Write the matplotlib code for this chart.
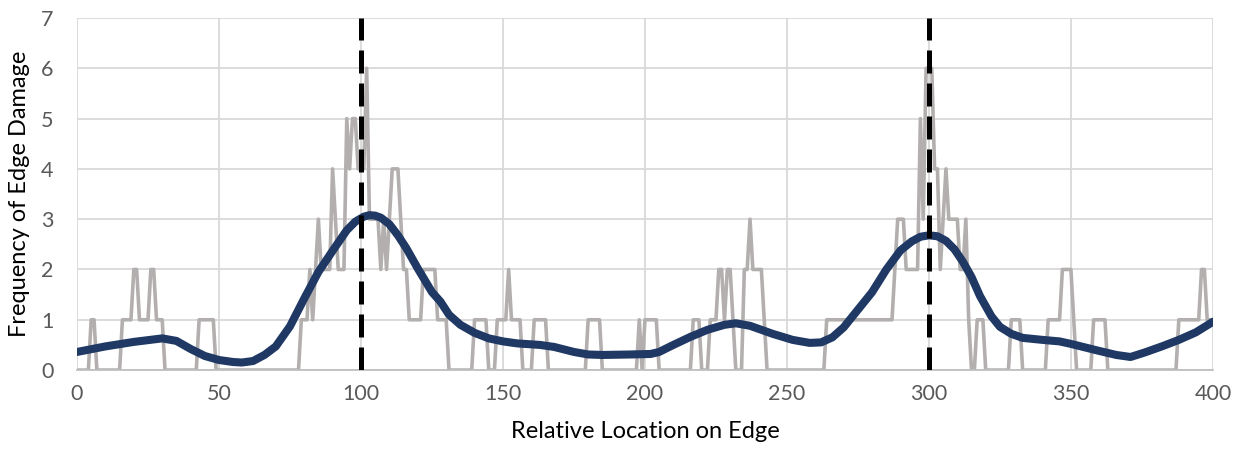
import numpy as np
import matplotlib
matplotlib.use("Agg")
import matplotlib.pyplot as plt

# raw frequency (integer steps), stored as runs: value holds from start to next start
run_starts = [0, 5, 7, 16, 20, 22, 26, 28, 31, 43,
              49, 79, 82, 83, 84, 85, 86, 90, 91, 92,
              95, 96, 97, 99, 102, 103, 107, 108, 109, 110,
              111, 114, 115, 117, 122, 127, 131, 140, 145, 148,
              152, 153, 157, 161, 166, 180, 185, 198, 199, 200,
              205, 217, 220, 223, 226, 228, 229, 231, 232, 235,
              237, 238, 242, 243, 264, 288, 289, 292, 297, 298,
              299, 302, 304, 305, 306, 307, 311, 313, 314, 315,
              317, 320, 329, 333, 342, 347, 351, 352, 358, 363,
              388, 396, 398]
run_values = [0, 1, 0, 1, 2, 1, 2, 1, 0, 1,
              0, 1, 2, 1, 2, 3, 2, 4, 3, 2,
              5, 4, 5, 4, 6, 3, 2, 3, 2, 3,
              4, 3, 2, 1, 2, 1, 0, 1, 0, 1,
              2, 1, 0, 1, 0, 1, 0, 1, 0, 1,
              0, 1, 0, 1, 2, 1, 2, 1, 0, 2,
              3, 2, 1, 0, 1, 2, 3, 2, 5, 3,
              6, 4, 2, 3, 4, 3, 2, 3, 1, 0,
              1, 0, 1, 0, 1, 2, 1, 0, 1, 0,
              1, 2, 1]
x_max = 400

# smoothed trend
smooth_x = [0, 10, 20, 30, 35, 40, 45, 50, 55, 58, 62, 66, 70, 75, 80, 85, 90, 95,
            98, 101, 103, 105, 107, 110, 113, 116, 120, 125, 128, 131, 135, 140, 145,
            150, 155, 163, 168, 175, 180, 185, 195, 202, 205, 210, 216, 222, 228, 232,
            237, 245, 252, 258, 262, 266, 270, 275, 280, 285, 290, 294, 297, 300, 303,
            306, 309, 312, 315, 318, 322, 325, 329, 333, 340, 346, 350, 355, 360, 366,
            371, 376, 382, 388, 394, 400]
smooth_y = [0.36, 0.47, 0.56, 0.63, 0.58, 0.42, 0.28, 0.20, 0.16, 0.15, 0.18, 0.30,
            0.47, 0.87, 1.42, 1.95, 2.37, 2.78, 2.95, 3.05, 3.08, 3.07, 3.03, 2.90,
            2.68, 2.42, 2.02, 1.55, 1.36, 1.10, 0.90, 0.74, 0.63, 0.57, 0.53, 0.50,
            0.46, 0.36, 0.31, 0.30, 0.31, 0.32, 0.36, 0.50, 0.66, 0.80, 0.90, 0.93,
            0.88, 0.72, 0.60, 0.54, 0.55, 0.65, 0.85, 1.20, 1.55, 2.00, 2.38, 2.56,
            2.65, 2.68, 2.66, 2.57, 2.40, 2.15, 1.85, 1.47, 1.07, 0.86, 0.72, 0.64,
            0.60, 0.57, 0.52, 0.45, 0.38, 0.30, 0.26, 0.35, 0.47, 0.60, 0.75, 0.96]

marker_x = [100, 300]

lengths = np.diff(run_starts + [x_max + 1])
gray_y = np.repeat(run_values, lengths)
gray_x = np.arange(x_max + 1)

plt.rcParams["font.family"] = ["Lato", "DejaVu Sans"]

fig = plt.figure(figsize=(12.44, 4.58), dpi=100)
ax = fig.add_axes([0.0619, 0.192, 0.9131, 0.7687])

ax.plot(gray_x, gray_y, color="#b3afae", lw=2.6, zorder=2)
ax.plot(smooth_x, smooth_y, color="#1f3864", lw=5.8, zorder=3,
        solid_capstyle="round", solid_joinstyle="round")
for xv in marker_x:
    ax.axvline(xv, color="black", lw=3.6, dashes=(4.6, 2.0), zorder=4)

ax.set_xlim(0, 400)
ax.set_ylim(0, 7)
ax.set_xticks(range(0, 401, 50))
ax.set_yticks(range(0, 8))
ax.grid(True, color="#d9d9d9", lw=1.3, zorder=0)
ax.set_axisbelow(True)
for s in ["top", "right", "left"]:
    ax.spines[s].set_visible(False)
ax.spines["bottom"].set_color("#bfbfbf")
ax.spines["bottom"].set_linewidth(1.3)
ax.tick_params(length=0, labelsize=15.5, colors="#595959", pad=10)
ax.tick_params(axis="y", pad=17)

ax.set_xlabel("Relative Location on Edge", fontsize=17, color="black", labelpad=12)
ax.set_ylabel("Frequency of Edge Damage", fontsize=17, color="black", labelpad=8)

fig.savefig("out.png", dpi=100)
